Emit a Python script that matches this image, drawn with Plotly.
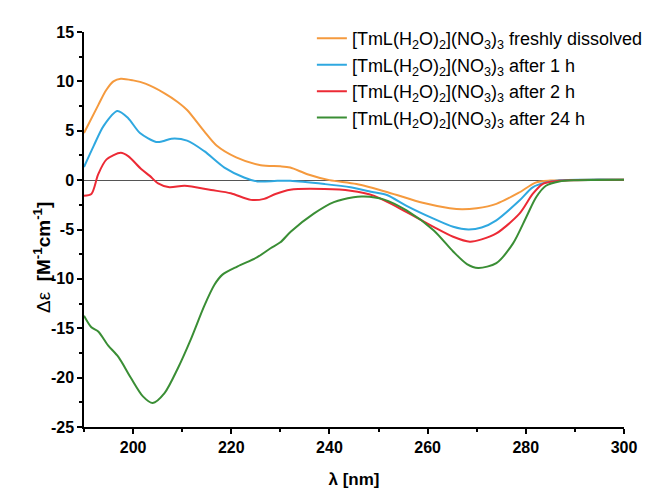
import plotly.graph_objects as go

# ---- data ----
wl_fresh = [190, 192.9, 194.5, 196, 197.5, 200, 202.5, 206.5, 209, 211, 214.5, 217, 221, 226, 230, 232, 235.5, 240, 245.5, 252, 259, 264.5, 267, 270, 274, 278.5, 282, 285, 288, 292, 300]
de_fresh = [4.77, 7.6, 9.1, 10.0, 10.27, 10.1, 9.77, 8.77, 7.94, 7.1, 4.93, 3.5, 2.3, 1.5, 1.4, 1.27, 0.6, 0.0, -0.4, -1.25, -2.3, -2.85, -2.96, -2.85, -2.4, -1.3, -0.25, -0.05, 0.0, 0.05, 0.05]

wl_1h = [190, 192, 194, 196.8, 199, 201.4, 204.7, 206, 207.8, 211, 214.5, 218.6, 222.6, 225.3, 229.4, 232, 239, 244.3, 249, 251.7, 255.7, 261.2, 265.2, 268.3, 271, 274, 278.7, 281.4, 284.1, 287, 292, 300]
de_1h = [1.33, 3.5, 5.5, 7.0, 6.27, 4.77, 3.87, 3.93, 4.2, 4.0, 2.93, 1.27, 0.27, -0.13, -0.07, -0.07, -0.4, -0.73, -1.23, -1.5, -2.6, -3.9, -4.73, -5.0, -4.8, -4.07, -2.07, -0.73, -0.23, 0.0, 0.05, 0.05]

wl_2h = [190, 191.5, 192.9, 194.6, 197.5, 199, 201.7, 203.4, 205.1, 207.4, 210.5, 215.9, 219.9, 224, 226.7, 229, 232, 239, 244.3, 249, 255.7, 261.2, 265.2, 268.6, 271, 274, 278.7, 281.4, 283.4, 285.5, 289, 300]
de_2h = [-1.57, -1.4, 0.6, 2.1, 2.77, 2.43, 1.1, 0.43, -0.33, -0.73, -0.57, -1.0, -1.33, -2.0, -1.9, -1.4, -0.97, -0.9, -1.07, -1.57, -3.23, -4.73, -5.73, -6.23, -6.0, -5.4, -3.4, -1.4, -0.4, -0.13, 0.0, 0.05]

wl_24h = [190, 191.5, 192.9, 194.9, 197, 199.6, 202, 204, 206.4, 209.1, 211.8, 214.5, 216.6, 218.2, 221.3, 225.3, 228, 230, 232.1, 236.8, 240.9, 244.9, 247, 251, 255.7, 261.2, 265.2, 268, 270.3, 274, 277.4, 280.1, 282.1, 284.1, 286.8, 290, 300]
de_24h = [-13.73, -14.9, -15.33, -16.73, -17.9, -20.07, -21.9, -22.57, -21.57, -19.07, -16.07, -12.73, -10.57, -9.57, -8.73, -7.8, -6.9, -6.3, -5.23, -3.4, -2.23, -1.73, -1.67, -1.95, -3.07, -5.07, -7.23, -8.5, -8.9, -8.4, -6.4, -3.73, -1.73, -0.57, -0.13, 0.0, 0.05]

names = [
    "[TmL(H<sub>2</sub>O)<sub>2</sub>](NO<sub>3</sub>)<sub>3</sub> freshly dissolved",
    "[TmL(H<sub>2</sub>O)<sub>2</sub>](NO<sub>3</sub>)<sub>3</sub> after 1 h",
    "[TmL(H<sub>2</sub>O)<sub>2</sub>](NO<sub>3</sub>)<sub>3</sub> after 2 h",
    "[TmL(H<sub>2</sub>O)<sub>2</sub>](NO<sub>3</sub>)<sub>3</sub> after 24 h",
]
colors = ["#F59A3E", "#2FA8E0", "#EC2A35", "#3A8E35"]

x_ticks = [200, 220, 240, 260, 280, 300]
y_ticks = [15, 10, 5, 0, -5, -10, -15, -20, -25]

series = [(wl_fresh, de_fresh), (wl_1h, de_1h), (wl_2h, de_2h), (wl_24h, de_24h)]

fig = go.Figure()
for (xs, ys), nm, c in zip(series, names, colors):
    fig.add_trace(go.Scatter(x=xs, y=ys, mode="lines", name=nm,
                             line=dict(color=c, width=2, shape="spline", smoothing=0.8)))

FONT = "Liberation Sans, Arial, sans-serif"
fig.update_layout(
    width=652, height=490,
    margin=dict(l=76, r=34, t=23, b=67),
    paper_bgcolor="white", plot_bgcolor="white",
    font=dict(family=FONT, size=16, color="black"),
    legend=dict(x=0.422, y=1.03, xanchor="left", yanchor="top",
                bgcolor="rgba(0,0,0,0)", font=dict(family=FONT, size=18, color="black"),
                tracegroupgap=0),
    showlegend=True,
)
fig.update_xaxes(
    range=[190, 300], tickvals=x_ticks, ticktext=[str(v) for v in x_ticks],
    showline=True, linecolor="black", linewidth=1.5, mirror=False,
    ticks="outside", ticklen=5, tickwidth=1.5, tickcolor="black",
    minor=dict(dtick=10, tick0=190, ticks="outside", ticklen=3, tickwidth=1.5, tickcolor="black", showgrid=False),
    showgrid=False, zeroline=False,
    tickfont=dict(family=FONT, size=16, weight="bold"),
    title=dict(text="λ [nm]", font=dict(family=FONT, size=17, weight="bold"), standoff=18),
)
fig.update_yaxes(
    range=[-25, 15], tickvals=y_ticks, ticktext=[str(v) for v in y_ticks],
    showline=True, linecolor="black", linewidth=1.5, mirror=False,
    ticks="outside", ticklen=5, tickwidth=1.5, tickcolor="black",
    minor=dict(dtick=2.5, tick0=0, ticks="outside", ticklen=3, tickwidth=1.5, tickcolor="black", showgrid=False),
    showgrid=False, zeroline=True, zerolinecolor="#555555", zerolinewidth=1,
    tickfont=dict(family=FONT, size=16, weight="bold"),
)
fig.add_annotation(
    text="Δε  <b>[M<sup>-1</sup>cm<sup>-1</sup>]</b>",
    xref="paper", yref="paper", x=-0.078, y=0.43, xanchor="center", yanchor="middle",
    textangle=-90, showarrow=False, font=dict(family=FONT, size=19, color="black"),
)

fig.write_html("out.html")
